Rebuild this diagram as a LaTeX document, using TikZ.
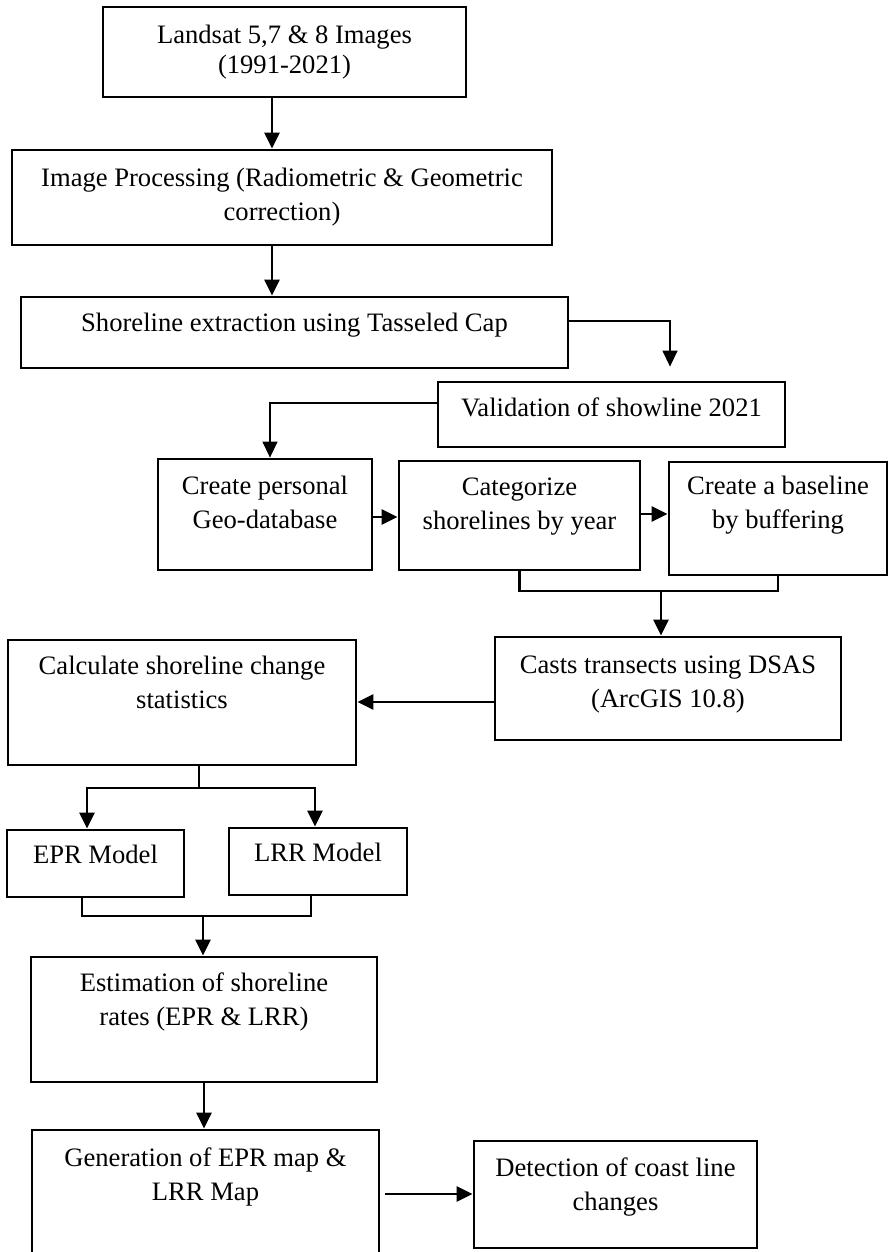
\documentclass[tikz,border=0pt]{standalone}
\usepackage{fontspec}
\setmainfont{Liberation Serif}
\usetikzlibrary{arrows.meta}

\begin{document}
\begin{tikzpicture}[x = 1pt, y = -1pt,
		box/.style = {draw, line width = 2.8pt, align = center, inner sep = 0pt,
			font = \fontsize{26.6pt}{34pt}\selectfont},
		line/.style = {line width = 2.6pt},
		thin line/.style = {line width = 1.4pt},
		tip/.style = {-{Triangle[length = 16pt, width = 15pt]}}]
					\useasboundingbox (0,0) rectangle (889,1252);

					% upper column
					\node [box, minimum width = 363pt, minimum height = 90pt] (landsat) at (284.5,52) {Landsat 5,7 \& 8 Images\\[-4pt](1991-2021)};
					\node [box, minimum width = 540pt, minimum height = 95pt] (processing) at (282,197.5) {Image Processing (Radiometric \& Geometric\\correction)};
					\node [box, minimum width = 547pt, minimum height = 71pt, text depth = 21pt] (extraction) at (294.5,332.5) {Shoreline extraction using Tasseled Cap};
					\node [box, minimum width = 347pt, minimum height = 65pt, text depth = 15pt] (validation) at (611.5,414.5) {Validation of showline 2021};

					% middle row
					\node [box, minimum width = 214pt, minimum height = 111pt, text depth = 24pt] (database) at (265,514.5) {Create personal\\Geo-database};
					\node [box, minimum width = 241pt, minimum height = 109pt, text depth = 24pt] (categorize) at (519.5,515.5) {Categorize\\shorelines by year};
					\node [box, minimum width = 218pt, minimum height = 113pt, text depth = 33pt] (baseline) at (778,518.5) {Create a baseline\\by buffering};
					\node [box, minimum width = 346pt, minimum height = 103pt, text depth = 14pt] (transects) at (668,688.5) {Casts transects using DSAS\\(ArcGIS 10.8)};
					\node [box, minimum width = 348pt, minimum height = 125pt, text depth = 40pt] (statistics) at (182,702.5) {Calculate shoreline change\\statistics};

					% lower column
					\node [box, minimum width = 177pt, minimum height = 67pt, text depth = 19pt] (epr) at (95.5,863.5) {EPR Model};
					\node [box, minimum width = 178pt, minimum height = 67pt, text depth = 19pt] (lrr) at (318,861.5) {LRR Model};
					\node [box, minimum width = 346pt, minimum height = 125pt, text depth = 40pt] (rates) at (204,1019.5) {Estimation of shoreline\\rates (EPR \& LRR)};
					\node [box, minimum width = 347pt, minimum height = 132pt, text depth = 43pt] (maps) at (205.5,1196) {Generation of EPR map \&\\LRR Map};
					\node [box, minimum width = 283pt, minimum height = 107pt, text depth = 20pt] (detection) at (615.5,1194.5) {Detection of coast line\\changes};

					\coordinate (join) at (661,591);
					\coordinate (split) at (199,788);
					\coordinate (merge) at (203,916);

					\begin{scope}[line]
						\draw (categorize.south) |- (join) -| (baseline.south);
						\draw ([xshift = 17pt]statistics.south) -- (split);
						\draw ([xshift = -13.5pt]epr.south) |- (merge) -| ([xshift = -7pt]lrr.south);
					\end{scope}

					\begin{scope}[line, tip]
						\draw ([xshift = -12.5pt]landsat.south) -- ([xshift = -12.5pt]landsat.south |- processing.north);
						\draw ([xshift = -10pt]processing.south) -- ([xshift = -10pt]processing.south |- extraction.north);
						\draw ([yshift = -2.5pt]database.east) -- ([yshift = -2.5pt]database.east -| categorize.west);
						\draw ([yshift = 1.5pt]categorize.east) -- ([yshift = 1.5pt]categorize.east -| baseline.west);
						\draw (join) -- (join |- transects.north);
						\draw ([yshift = -13.5pt]transects.west) -- ([yshift = -13.5pt]transects.west -| statistics.east);
						\draw (split) -| ([xshift = -8.5pt]epr.north);
						\draw (split) -| ([xshift = -3pt]lrr.north);
						\draw (merge) -- (merge |- rates.north);
						\draw (rates.south) -- (rates.south |- maps.north);
						\draw ([xshift = 5pt, yshift = 2pt]maps.east) -- ([yshift = 2pt]maps.east -| detection.west);
					\end{scope}

					\begin{scope}[thin line, tip]
						\draw [shorten > = 14pt] ([yshift = 11.5pt]extraction.east) -| ([xshift = 58.5pt]validation.north);
						\draw ([yshift = 11.5pt]validation.west) -| ([xshift = 5pt]database.north);
					\end{scope}
				\end{tikzpicture}
\end{document}
